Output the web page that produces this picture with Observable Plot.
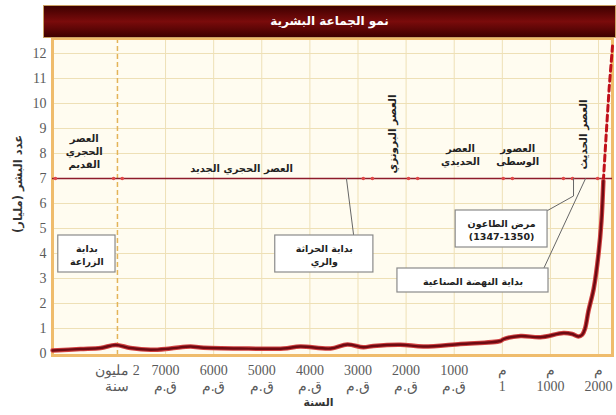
<!DOCTYPE html>
<html><head><meta charset="utf-8">
<script src="https://cdn.jsdelivr.net/npm/d3@7"></script>
<script src="https://cdn.jsdelivr.net/npm/@observablehq/plot@0.6"></script>
<style>
body{margin:0;background:#fff;}
#wrap{position:relative;width:616px;height:415px;}
#title{position:absolute;left:43px;top:5px;width:573px;height:33px;background:linear-gradient(#3e0000,#7a0b0b 50%,#3e0000);color:#fff;font:bold 12px "DejaVu Sans";text-align:center;line-height:31px;box-sizing:border-box;border:1px solid #caa064;z-index:2;}
#chart{position:absolute;left:0;top:0;}
</style></head><body>
<div id="wrap"><div id="chart"></div><div id="title">نمو الجماعة البشرية</div></div>
<script>
// axis ticks (ordinal positions: 0 = 2 million years ago ... 10 = 2000 CE)
const tickPos = [0,1,2,3,4,5,6,7,8,9,10];
const tickLabels = ["\u200F2 مليون\nسنة","7000\nق.م","6000\nق.م","5000\nق.م","4000\nق.م","3000\nق.م","2000\nق.م","1000\nق.م","م\n1","م\n1000","م\n2000"];
const yTicks = [0,1,2,3,4,5,6,7,8,9,10,11,12];

// population (billions)
const popX = [-1.35,-0.77,-0.35,-0.04,0.27,0.69,1.1,1.52,1.73,2.56,3.45,3.8,4.43,4.78,5.11,5.32,5.88,6.36,7.13,7.96,8.02,8.38,8.79,9.27,9.45,9.58,9.66,9.72,9.79,9.9,10.0,10.06,10.1];
const popY = [0.12,0.18,0.22,0.34,0.22,0.15,0.2,0.28,0.24,0.2,0.2,0.28,0.2,0.36,0.25,0.3,0.35,0.28,0.38,0.5,0.57,0.7,0.65,0.82,0.78,0.68,0.75,1.0,1.7,2.6,4.0,5.3,6.9];
// projection (dashed)
const projX = [10.1,10.16,10.22,10.29];
const projY = [6.9,8.8,10.6,12.3];

// eras along the 7-billion line
const eraDotX = [-1.29,-0.08,0.10,5.11,5.30,6.05,6.24,8.02,8.21,9.27,9.46,9.98,10.1];
const eraLabelX = [-0.69,2.58,7.13,8.32];
const eraLabelY = [8.12,7.42,7.96,7.96];
const eraLabels = ["العصر\nالحجري\nالقديم","العصر الحجري الجديد","العصر\nالحديدي","العصور\nالوسطى"];
const eraVLabelX = [5.72,9.69];
const eraVLabelY = [8.78,8.76];
const eraVLabels = ["العصر البرونزي","العصر الحديث"];

// annotation boxes
const boxX1 = [-1.23,3.28,7.03,5.82];
const boxX2 = [-0.04,5.32,8.94,8.96];
const boxY1 = [3.24,3.24,4.24,2.44];
const boxY2 = [4.72,4.72,5.72,3.4];
const boxTextX = [-0.635,4.3,7.985,7.39];
const boxTextY = [3.98,3.98,4.98,2.92];
const boxText = ["بداية\nالزراعة","بداية الحراثة\nوالري","مرض الطاعون\n\u200E(1347-1350)","بداية النهضة الصناعية"];

// leader lines
const leaderId = ["a","a","b","b","b","c","c"];
const leaderX = [4.76,4.91,9.48,9.48,8.94,9.73,8.86];
const leaderY = [7,4.72,7,6.3,5.72,7,3.4];

const serif = "Liberation Serif, DejaVu Serif, serif";
const arab = "DejaVu Sans, sans-serif";
const idx = d3.range(4);

const chart = Plot.plot({
  width: 616, height: 415,
  marginLeft: 52, marginRight: 4, marginTop: 38, marginBottom: 60,
  x: {domain: [-1.35, 10.29], axis: null},
  y: {domain: [-0.08, 12.6], axis: null},
  style: {background: "transparent", overflow: "visible"},
  marks: [
    Plot.frame({fill: "#fffcf0"}),
    Plot.gridX(tickPos.slice(1), {stroke: "#eee0b6", strokeOpacity: 1}),
    Plot.gridY(yTicks.slice(1), {stroke: "#eee0b6", strokeOpacity: 1}),
    Plot.ruleX([0], {stroke: "#e3b458", strokeWidth: 1.5, strokeDasharray: "5,3"}),
    Plot.frame({stroke: "#efbc6c", strokeWidth: 3}),
    Plot.text(yTicks, {x: -1.35, y: d => d, text: d => String(d), textAnchor: "end", dx: -6, fontFamily: serif, fontSize: 14, fill: "#5a5a5a"}),
    Plot.text(tickPos, {x: d => d, frameAnchor: "bottom", dy: 8, text: (d, i) => tickLabels[i], lineAnchor: "top", lineHeight: 1.15, fontFamily: serif, fontSize: 14, fill: "#5a5a5a"}),
    Plot.text(["عدد البشر (مليار)"], {frameAnchor: "left", rotate: -90, dx: -34, dy: 36, text: d => d, fontFamily: arab, fontWeight: "bold", fontSize: 11.5, fill: "#333"}),
    Plot.text(["السنة"], {frameAnchor: "bottom", dx: -14, dy: 50, text: d => d, fontFamily: arab, fontWeight: "bold", fontSize: 11, fill: "#333"}),
    Plot.ruleY([7], {stroke: "#8e1b2b", strokeWidth: 1.5}),
    Plot.dot(eraDotX, {x: d => d, y: 7, r: 1.8, fill: "#e04848"}),
    Plot.text(eraLabels, {x: (d, i) => eraLabelX[i], y: (d, i) => eraLabelY[i], text: d => d, fontFamily: arab, fontWeight: "bold", fontSize: 10, fill: "#222", lineHeight: 1.3}),
    Plot.text(eraVLabels, {x: (d, i) => eraVLabelX[i], y: (d, i) => eraVLabelY[i], text: d => d, rotate: -90, fontFamily: arab, fontWeight: "bold", fontSize: 10.5, fill: "#222"}),
    Plot.line(leaderX, {x: d => d, y: (d, i) => leaderY[i], z: (d, i) => leaderId[i], stroke: "#666", strokeWidth: 1}),
    Plot.rect(idx, {x1: i => boxX1[i], x2: i => boxX2[i], y1: i => boxY1[i], y2: i => boxY2[i], fill: "#fff", stroke: "#8a8a8a", strokeWidth: 1.2}),
    Plot.text(boxText, {x: (d, i) => boxTextX[i], y: (d, i) => boxTextY[i], text: d => d, fontFamily: arab, fontWeight: "bold", fontSize: 9.5, fill: "#222", lineHeight: 1.35}),
    Plot.line(projX, {x: d => d, y: (d, i) => projY[i], stroke: "#c0101a", strokeWidth: 3, strokeDasharray: "6,4"}),
    Plot.line(popX, {x: d => d, y: (d, i) => popY[i], stroke: "#d04040", strokeWidth: 4.5, curve: "catmull-rom"}),
    Plot.line(popX, {x: d => d, y: (d, i) => popY[i], stroke: "#6e0a12", strokeWidth: 2.4, curve: "catmull-rom"})
  ]
});
document.getElementById("chart").append(chart);
</script>
</body></html>
